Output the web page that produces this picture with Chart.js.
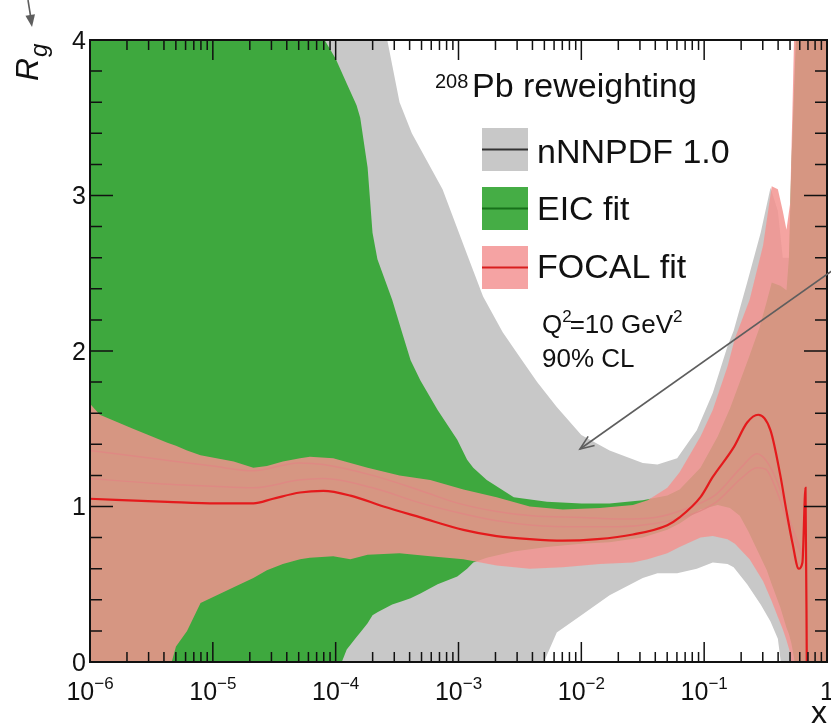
<!DOCTYPE html>
<html>
<head>
<meta charset="utf-8">
<script src="https://cdn.jsdelivr.net/npm/chart.js@4.4.0/dist/chart.umd.min.js"></script>
<style>
    html, body { margin: 0; padding: 0; background: #fff; }
    canvas { display: block; }
</style>
</head>
<body>
<canvas id="rgChart" width="831" height="727"></canvas>
<script>

// nNNPDF 1.0 band (grey)
const grayX  = [-6, -4.0, -3.58, -3.48, -3.38, -3.13, -2.93, -2.80, -2.64, -2.50, -2.36, -2.20, -2.00, -1.77, -1.50, -1.38, -1.22, -1.06, -0.93, -0.81, -0.76, -0.65, -0.54, -0.46, -0.40, -0.36, -0.32, -0.20, 0];
const grayUp = [4.3, 4.3, 4.0, 3.60, 3.40, 3.04, 2.62, 2.35, 2.12, 1.96, 1.80, 1.64, 1.46, 1.36, 1.28, 1.27, 1.31, 1.49, 1.73, 2.03, 2.13, 2.44, 2.76, 3.05, 2.90, 2.60, 2.60, 2.60, 2.60];
const grayLo = [-0.1, -0.1, -0.1, -0.1, -0.1, -0.1, -0.1, -0.1, -0.1, -0.1, -0.1, 0.19, 0.30, 0.43, 0.54, 0.57, 0.57, 0.60, 0.64, 0.63, 0.61, 0.50, 0.37, 0.26, 0.15, -0.1, -0.1, -0.1, -0.1];

// EIC fit band (green)
const greenX  = [-6, -4.09, -4.0, -3.91, -3.83, -3.80, -3.74, -3.70, -3.66, -3.54, -3.46, -3.39, -3.31, -3.17, -3.01, -2.93, -2.88, -2.77, -2.55, -2.28, -2.0, -1.77, -1.5, -1.3, -1.2, -1.03, -0.89, -0.79, -0.71, -0.64, -0.55, -0.49, -0.45, -0.38, -0.33, -0.31, -0.29, -0.24, 0];
const greenUp = [4.3, 4.0, 3.88, 3.72, 3.58, 3.50, 3.18, 2.76, 2.59, 2.33, 2.12, 1.94, 1.81, 1.62, 1.43, 1.30, 1.25, 1.17, 1.06, 1.03, 1.02, 1.02, 1.04, 1.07, 1.11, 1.25, 1.45, 1.63, 1.80, 1.95, 2.15, 2.32, 2.44, 2.42, 2.39, 2.6, 3.2, 4.3, 4.3];
const greenLo = [-0.1, -0.1, -0.1, 0.08, 0.16, 0.19, 0.25, 0.30, 0.32, 0.37, 0.39, 0.41, 0.44, 0.50, 0.55, 0.60, 0.64, 0.67, 0.71, 0.74, 0.76, 0.77, 0.80, 0.85, 0.89, 0.98, 1.01, 0.99, 0.94, 0.84, 0.69, 0.59, 0.50, 0.35, 0.22, 0.18, 0.12, -0.1, -0.1];

// FOCAL fit band (pink)
const pinkX  = [-6, -5.92, -5.65, -5.37, -5.30, -5.21, -5.10, -4.83, -4.67, -4.56, -4.43, -4.29, -4.21, -4.02, -3.88, -3.74, -3.48, -3.23, -2.96, -2.69, -2.42, -2.15, -1.85, -1.58, -1.46, -1.3, -1.2, -1.03, -0.93, -0.81, -0.75, -0.63, -0.52, -0.45, -0.40, -0.36, -0.33, -0.30, -0.28, -0.26, 0];
const pinkUp = [1.66, 1.59, 1.50, 1.41, 1.39, 1.36, 1.33, 1.29, 1.25, 1.26, 1.29, 1.31, 1.32, 1.31, 1.28, 1.25, 1.20, 1.17, 1.11, 1.06, 1.00, 0.98, 0.99, 1.01, 1.04, 1.12, 1.22, 1.45, 1.62, 1.90, 2.08, 2.33, 2.68, 3.06, 3.04, 2.90, 2.78, 2.95, 3.6, 4.3, 4.3];
const pinkLo = [-0.1, -0.1, -0.1, -0.1, 0.10, 0.20, 0.38, 0.48, 0.54, 0.59, 0.63, 0.66, 0.67, 0.68, 0.66, 0.69, 0.70, 0.68, 0.66, 0.62, 0.60, 0.61, 0.63, 0.64, 0.66, 0.70, 0.74, 0.80, 0.81, 0.79, 0.76, 0.66, 0.52, 0.39, 0.29, 0.21, 0.14, 0.06, -0.1, -0.1, -0.1];

// FOCAL central value (red line)
const redX = [-6, -5.37, -4.97, -4.67, -4.51, -4.29, -4.10, -3.88, -3.61, -3.31, -2.96, -2.69, -2.42, -2.15, -1.87, -1.58, -1.30, -1.20, -1.03, -0.93, -0.76, -0.65, -0.56, -0.46, -0.38, -0.33, -0.28, -0.23, -0.20, -0.175, -0.163];
const redY = [1.05, 1.03, 1.02, 1.02, 1.05, 1.09, 1.10, 1.07, 1.00, 0.93, 0.85, 0.81, 0.79, 0.78, 0.79, 0.82, 0.88, 0.93, 1.06, 1.19, 1.38, 1.54, 1.59, 1.49, 1.20, 0.97, 0.76, 0.60, 0.64, 1.12, -0.2];

// nNNPDF and EIC central values, seen faintly through the pink band
const faintX = [-6, -5.5, -5.0, -4.67, -4.3, -4.1, -3.7, -3.3, -3.0, -2.7, -2.4, -2.0, -1.7, -1.4, -1.1, -0.9, -0.7, -0.57, -0.5, -0.4, -0.3, -0.2];
const grayMid  = [1.36, 1.31, 1.26, 1.23, 1.28, 1.27, 1.20, 1.10, 1.02, 0.97, 0.94, 0.93, 0.92, 0.93, 1.00, 1.08, 1.25, 1.34, 1.30, 1.15, 0.90, 0.70];
const greenMid = [1.18, 1.15, 1.13, 1.12, 1.17, 1.18, 1.12, 1.02, 0.96, 0.91, 0.88, 0.87, 0.87, 0.89, 0.95, 1.03, 1.18, 1.25, 1.24, 1.08, 0.85, 0.68];

const yTicks = [0, 1, 2, 3, 4];
const xTickExp = [-6, -5, -4, -3, -2, -1, 0];
const legendLabels = ['nNNPDF 1.0', 'EIC fit', 'FOCAL fit'];

const FONT = '"Liberation Sans", Arial, Helvetica, sans-serif';
const GRAY = '#c8c8c8';
const GREEN = '#3ea83e';
const PINK = 'rgba(243, 146, 143, 0.84)';
const RED = '#e41a1c';

function points(xs, ys) {
    return xs.map((e, i) => ({ x: Math.pow(10, e), y: ys[i] }));
}

function edge(label, xs, ys, order, fillColor) {
    return {
        label: label,
        data: points(xs, ys),
        borderColor: 'rgba(0,0,0,0)',
        borderWidth: 0,
        backgroundColor: fillColor || 'rgba(0,0,0,0)',
        fill: fillColor ? '-1' : false,
        pointRadius: 0,
        tension: 0,
        order: order
    };
}

function curve(label, xs, ys, order, color, width) {
    return {
        label: label,
        data: points(xs, ys),
        borderColor: color,
        borderWidth: width,
        fill: false,
        pointRadius: 0,
        cubicInterpolationMode: 'monotone',
        order: order
    };
}

function arrowHead(ctx, x1, y1, x2, y2, len, filled) {
    const a = Math.atan2(y2 - y1, x2 - x1);
    const s = 0.38;
    ctx.beginPath();
    ctx.moveTo(x2 - len * Math.cos(a - s), y2 - len * Math.sin(a - s));
    ctx.lineTo(x2, y2);
    ctx.lineTo(x2 - len * Math.cos(a + s), y2 - len * Math.sin(a + s));
    if (filled) {
        ctx.closePath();
        ctx.fill();
    } else {
        ctx.stroke();
    }
}

const decorations = {
    id: 'decorations',
    afterDraw(chart) {
        const ctx = chart.ctx;
        const area = chart.chartArea;
        const xs = chart.scales.x;
        const ys = chart.scales.y;
        ctx.save();

        // ticks on all four sides, pointing inwards
        ctx.strokeStyle = '#111';
        ctx.lineWidth = 1.5;
        ctx.beginPath();
        for (let e = -6; e <= 0; e++) {
            for (let m = 1; m <= 9; m++) {
                const v = m * Math.pow(10, e);
                if (v > 1.000001) break;
                const px = xs.getPixelForValue(v);
                const len = m === 1 ? 20 : 10;
                ctx.moveTo(px, area.bottom);
                ctx.lineTo(px, area.bottom - len);
                ctx.moveTo(px, area.top);
                ctx.lineTo(px, area.top + len);
            }
        }
        for (let k = 0; k <= 20; k++) {
            const py = ys.getPixelForValue(k * 0.2);
            const len = k % 5 === 0 ? 23 : 12;
            ctx.moveTo(area.left, py);
            ctx.lineTo(area.left + len, py);
            ctx.moveTo(area.right, py);
            ctx.lineTo(area.right - len, py);
        }
        ctx.stroke();
        ctx.lineWidth = 2;
        ctx.strokeRect(area.left, area.top, area.right - area.left, area.bottom - area.top);

        ctx.fillStyle = '#111';

        // y tick labels
        ctx.font = '25px ' + FONT;
        ctx.textAlign = 'right';
        ctx.textBaseline = 'middle';
        yTicks.forEach(v => {
            ctx.fillText(String(v), area.left - 4, ys.getPixelForValue(v) + 2);
        });

        // x tick labels as 10^n
        ctx.textBaseline = 'alphabetic';
        ctx.textAlign = 'left';
        xTickExp.forEach(e => {
            const px = xs.getPixelForValue(Math.pow(10, e));
            if (e === 0) {
                ctx.font = '25px ' + FONT;
                ctx.textAlign = 'center';
                ctx.fillText('1', px, 700);
                ctx.textAlign = 'left';
                return;
            }
            const sup = '\u2212' + (-e);
            ctx.font = '25px ' + FONT;
            const wb = ctx.measureText('10').width;
            ctx.font = '17px ' + FONT;
            const we = ctx.measureText(sup).width;
            const start = px - (wb + we) / 2;
            ctx.font = '25px ' + FONT;
            ctx.fillText('10', start, 700);
            ctx.font = '17px ' + FONT;
            ctx.fillText(sup, start + wb, 689);
        });

        // axis titles
        ctx.font = '32px ' + FONT;
        ctx.textAlign = 'right';
        ctx.fillText('x', area.right, 723);

        ctx.save();
        ctx.translate(38, 81);
        ctx.rotate(-Math.PI / 2);
        ctx.textAlign = 'left';
        ctx.font = 'italic 32px ' + FONT;
        ctx.fillText('R', 0, 0);
        const rw = ctx.measureText('R').width;
        ctx.font = 'italic 24px ' + FONT;
        ctx.fillText('g', rw + 1, 9);
        ctx.restore();

        // header
        ctx.textAlign = 'left';
        ctx.font = '20px ' + FONT;
        ctx.fillText('208', 435, 88);
        ctx.font = '34px ' + FONT;
        ctx.fillText('Pb reweighting', 472, 97);

        // legend
        const boxes = [
            { top: 128, fill: GRAY, line: '#333333' },
            { top: 187, fill: '#45ad45', line: '#17701a' },
            { top: 246, fill: '#f5a3a3', line: '#d81e1e' }
        ];
        const baselines = [163, 220, 278];
        boxes.forEach((b, i) => {
            ctx.fillStyle = b.fill;
            ctx.fillRect(482, b.top, 46, 43);
            ctx.strokeStyle = b.line;
            ctx.lineWidth = 2;
            ctx.beginPath();
            ctx.moveTo(482, b.top + 21.5);
            ctx.lineTo(528, b.top + 21.5);
            ctx.stroke();
            ctx.fillStyle = '#111';
            ctx.font = '34px ' + FONT;
            ctx.fillText(legendLabels[i], 537, baselines[i]);
        });

        // Q^2 and CL note
        let tx = 542;
        ctx.font = '26px ' + FONT;
        ctx.fillText('Q', tx, 333);
        tx += ctx.measureText('Q').width;
        ctx.font = '17px ' + FONT;
        ctx.fillText('2', tx, 322);
        tx += ctx.measureText('2').width - 2;
        ctx.font = '26px ' + FONT;
        ctx.fillText('=10 GeV', tx, 333);
        tx += ctx.measureText('=10 GeV').width;
        ctx.font = '17px ' + FONT;
        ctx.fillText('2', tx, 322);
        ctx.font = '26px ' + FONT;
        ctx.fillText('90% CL', 542, 367);

        // annotation arrows
        ctx.strokeStyle = '#5e5e5e';
        ctx.fillStyle = '#5e5e5e';
        ctx.lineWidth = 1.6;
        ctx.beginPath();
        ctx.moveTo(28, 0);
        ctx.lineTo(31.5, 22);
        ctx.stroke();
        arrowHead(ctx, 28, 0, 32, 27, 13, true);

        ctx.beginPath();
        ctx.moveTo(836, 268);
        ctx.lineTo(580, 449);
        ctx.stroke();
        arrowHead(ctx, 836, 268, 580, 449, 15, false);

        ctx.restore();
    }
};

const ctx = document.getElementById('rgChart').getContext('2d');
new Chart(ctx, {
    type: 'line',
    data: {
        datasets: [
            edge('nNNPDF lower', grayX, grayLo, 11),
            edge('nNNPDF 1.0', grayX, grayUp, 10, GRAY),
            edge('EIC lower', greenX, greenLo, 9),
            edge('EIC fit', greenX, greenUp, 8, GREEN),
            curve('nNNPDF central', faintX, grayMid, 7, 'rgba(120, 80, 70, 0.9)', 1.5),
            curve('EIC central', faintX, greenMid, 7, 'rgba(120, 80, 70, 0.9)', 1.5),
            edge('FOCAL lower', pinkX, pinkLo, 6),
            edge('FOCAL fit', pinkX, pinkUp, 5, PINK),
            curve('FOCAL central', redX, redY, 0, RED, 2.2)
        ]
    },
    options: {
        responsive: false,
        devicePixelRatio: 1,
        animation: false,
        layout: { padding: { left: 90, right: 4, top: 40, bottom: 65 } },
        plugins: {
            legend: { display: false },
            tooltip: { enabled: false }
        },
        scales: {
            x: { type: 'logarithmic', min: 1e-6, max: 1, display: false },
            y: { type: 'linear', min: 0, max: 4, display: false }
        }
    },
    plugins: [decorations]
});
</script>
</body>
</html>
